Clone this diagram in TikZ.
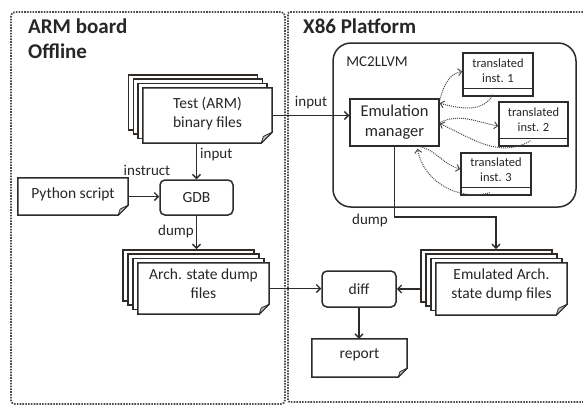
\documentclass[tikz,border=0pt]{standalone}
\usepackage{fontspec}
\setmainfont{Carlito}
\usetikzlibrary{arrows.meta,calc}

\definecolor{ink}{HTML}{2E2B28}
\definecolor{txt}{HTML}{262626}
\definecolor{flap}{HTML}{BDBDBD}
\definecolor{dots}{HTML}{4A4A4A}

% Outline of a note sheet with a folded bottom-right corner
\newcommand\notefold[2]{%
  \draw[draw=ink, line width=1.5pt, line join=miter]
    (#1.north west) -- (#1.north east) -- ([yshift=#2]#1.south east)
    -- ([xshift=-#2]#1.south east) -- (#1.south west) -- cycle;
  \filldraw[fill=flap, draw=ink, line width=0.8pt, line join=round]
    ([yshift=#2]#1.south east) -- ([xshift=-#2]#1.south east)
    -- ([xshift=-0.8*#2, yshift=0.62*#2]#1.south east) -- cycle;
}

\tikzset{
  panel/.style={draw=ink!85, line width=1.8pt, dash pattern=on 1.6pt off 1.2pt},
  paneltitle/.style={font=\fontsize{21}{25}\selectfont\bfseries, text=txt,
    align=left, inner sep=0pt, anchor=north west},
  box/.style={draw=ink, fill=white, line width=1.5pt, text=txt,
    font=\fontsize{15.5}{19}\selectfont, align=center, inner sep=0pt},
  roundbox/.style={box, rounded corners=5pt},
  sheet/.style={draw=ink, fill=white, line width=1.5pt, inner sep=0pt},
  notesheet/.style={fill=white, text=txt, font=\fontsize{15.5}{19}\selectfont,
    align=center, inner sep=0pt},
  instbox/.style={box, font=\fontsize{12.5}{15}\selectfont},
  lbl/.style={text=txt, font=\fontsize{15}{18}\selectfont, inner sep=0pt},
  flow/.style={draw=ink, line width=1.3pt, -{Straight Barb[length=4pt,width=8pt]}},
  loopdot/.style={draw=dots, line width=1pt, dash pattern=on 1pt off 1pt,
    -{Straight Barb[length=3.5pt,width=7pt]}},
  textup/.style={execute at end node={\rule[-#1]{0pt}{#1}}},
}

\begin{document}
\begin{tikzpicture}[x=1pt,y=-1pt]
\useasboundingbox (0,0) rectangle (583,407);

% ---- the two platforms ----
\draw[panel, rounded corners=4pt] (11,12) rectangle (285,404);
\draw[panel, rounded corners=2pt] (583,12) -- (288,12) -- (288,402) -- (583,402);
\node[paneltitle] (armtitle) at (28,19) {ARM board\\Offline};
\node[paneltitle] (x86title) at (303,19) {X86 Platform};

% ---- ARM side ----
\node[sheet, minimum width=129pt, minimum height=55pt] (testC) at (193.1,102.3) {};
\node[sheet, minimum width=129pt, minimum height=55pt] (testB) at (197.9,106.7) {};
\node[sheet, minimum width=129pt, minimum height=55pt] (testA) at (202.7,111.1) {};
\node[notesheet, minimum width=129pt, minimum height=55pt, textup=6pt] (test) at (207.5,115.5) {Test (ARM)\\binary files};
\notefold{test}{11pt}

\node[notesheet, minimum width=110pt, minimum height=37pt, textup=6pt] (python) at (73,196.5) {Python script};
\notefold{python}{10pt}

\node[roundbox, minimum width=73pt, minimum height=35pt] (gdb) at (196.5,197.5) {GDB};

\node[sheet, minimum width=131pt, minimum height=51pt] (archC) at (188.5,275.3) {};
\node[sheet, minimum width=131pt, minimum height=51pt] (archB) at (193.5,279.7) {};
\node[sheet, minimum width=131pt, minimum height=51pt] (archA) at (198.5,284.1) {};
\node[notesheet, minimum width=131pt, minimum height=51pt, textup=10pt] (arch) at (203.5,288.5) {Arch. state dump\\files};
\notefold{arch}{10pt}

% ---- X86 side ----
\node[draw=ink, line width=1.5pt, rounded corners=18pt, minimum width=243pt,
      minimum height=164pt, inner sep=0pt] (mc) at (454.5,125) {};
\node[lbl] (mclabel) at (377,62) {MC2LLVM};

\node[box, minimum width=89pt, minimum height=47pt, font=\fontsize{16.5}{20}\selectfont] (em) at (394.5,122.5) {Emulation\\manager};

\node[instbox, minimum width=70pt, minimum height=43pt, textup=8pt] (inst1) at (498,74.5) {translated\\inst. 1};
\node[instbox, minimum width=69pt, minimum height=44pt, textup=8pt] (inst2) at (533.5,124) {translated\\inst. 2};
\node[instbox, minimum width=70pt, minimum height=42pt, textup=8pt] (inst3) at (496,174) {translated\\inst. 3};
\foreach \n in {inst1,inst2,inst3}
  \draw[draw=ink, line width=1pt] ([yshift=8pt]\n.south west) -- ([yshift=8pt]\n.south east);

\node[sheet, minimum width=131pt, minimum height=52pt] (emuC) at (486.5,275.8) {};
\node[sheet, minimum width=131pt, minimum height=52pt] (emuB) at (491.5,280.2) {};
\node[sheet, minimum width=131pt, minimum height=52pt] (emuA) at (496.5,284.6) {};
\node[notesheet, minimum width=131pt, minimum height=52pt, textup=10pt] (emu) at (501.5,289) {Emulated Arch.\\state dump files};
\notefold{emu}{11pt}

\node[roundbox, minimum width=74pt, minimum height=36pt] (diff) at (359,289) {diff};

\node[notesheet, minimum width=95pt, minimum height=38pt, textup=8pt] (report) at (359.5,358) {report};
\notefold{report}{9pt}

% ---- connectors ----
\draw[flow] (test.east) -- (test.east -| em.west);
\draw[flow] (test.south -| gdb.north) -- (gdb.north);
\draw[flow] (python.east) -- (python.east -| gdb.west);
\draw[flow] (gdb.south) -- (gdb.south |- archC.north);
\draw[flow] (arch.east) -- (arch.east -| diff.west);
\draw[flow] (emuC.west |- diff.east) -- (diff.east);
\draw[flow] (diff.south) -- (diff.south |- report.north);
\draw[flow] (em.south) -- (em.south |- 0,217) -| ([xshift=9.5pt]emuC.north);

% calls between the manager and the translated blocks
\draw[loopdot] ([yshift=-2pt]em.north east) to[out=75,in=190] ([yshift=3pt]inst1.west);
\draw[loopdot] ([xshift=-5pt,yshift=2pt]inst1.south) to[out=-120,in=-15] ([yshift=-5pt]em.north east);
\draw[loopdot] (em.east) to[out=25,in=170] ([yshift=-2pt]inst2.west);
\draw[loopdot] ([xshift=-3pt,yshift=6pt]inst2.south) to[out=-150,in=-25] ([yshift=-1pt]em.east);
\draw[loopdot] ([xshift=26pt]em.south) to[out=-15,in=165] ([yshift=5pt]inst3.west);
\draw[loopdot] ([xshift=-6pt,yshift=3pt]inst3.south) to[out=-165,in=-80] ([xshift=23pt,yshift=-2pt]em.south);

% ---- labels ----
\node[lbl, anchor=west] (lblinput1) at (200,155) {input};
\node[lbl] (lblinstruct) at (147,170) {instruct};
\node[lbl] (lbldump1) at (176,231) {dump};
\node[lbl] (lblinput2) at (311,103) {input};
\node[lbl] (lbldump2) at (370,220) {dump};
\end{tikzpicture}
\end{document}
